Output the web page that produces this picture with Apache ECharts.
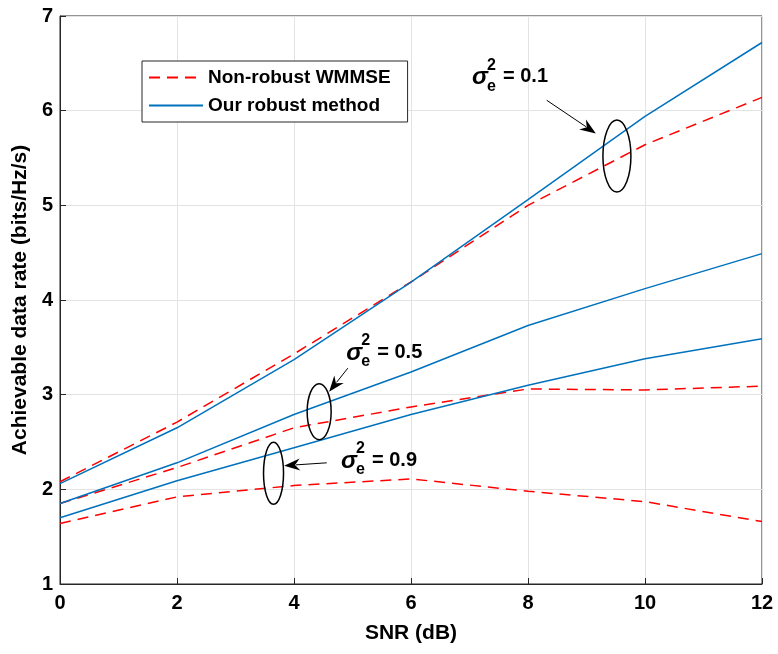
<!DOCTYPE html>
<html>
<head>
<meta charset="utf-8">
<script src="https://cdn.jsdelivr.net/npm/echarts@6/dist/echarts.min.js"></script>
<style>
  html, body { margin: 0; padding: 0; background: #fff; }
  #chart { width: 778px; height: 654px; }
</style>
</head>
<body>
<div id="chart"></div>
<script>
// SNR (dB)
const snr = [0, 2, 4, 6, 8, 10, 12];

// sigma_e^2 = 0.1
const robust01 = [2.06, 2.65, 3.37, 4.19, 5.06, 5.94, 6.72];
const nonRobust01 = [2.08, 2.71, 3.43, 4.19, 5.0, 5.64, 6.14];
// sigma_e^2 = 0.5
const robust05 = [1.85, 2.28, 2.79, 3.24, 3.73, 4.12, 4.49];
const nonRobust05 = [1.85, 2.23, 2.65, 2.87, 3.06, 3.05, 3.09];
// sigma_e^2 = 0.9
const robust09 = [1.70, 2.09, 2.44, 2.79, 3.10, 3.38, 3.59];
const nonRobust09 = [1.64, 1.92, 2.04, 2.11, 1.98, 1.87, 1.66];

const labelNames = ["0.1", "0.5", "0.9"];

const pair = (ys) => snr.map((x, i) => [x, ys[i]]);

const BLUE = "#0072BD";
const RED = "#FF0000";
const FONT = "Liberation Sans, Arial, sans-serif";

const chart = echarts.init(document.getElementById("chart"));

function robustSeries(ys) {
  return {
    name: "Our robust method",
    type: "line",
    data: pair(ys),
    symbol: "none",
    lineStyle: { color: BLUE, width: 1.5 },
    itemStyle: { color: BLUE },
    z: 3,
  };
}
function nonRobustSeries(ys) {
  return {
    name: "Non-robust WMMSE",
    type: "line",
    data: pair(ys),
    symbol: "none",
    lineStyle: { color: RED, width: 1.5, type: [11, 7] },
    itemStyle: { color: RED },
    z: 2,
  };
}

let option = {
  animation: false,
  grid: {
    left: 60,
    right: 16,
    top: 16,
    bottom: 70,
    show: true,
    borderColor: "#262626",
    borderWidth: 1,
  },
  legend: {
    left: 142,
    top: 61,
    orient: "vertical",
    data: ["Non-robust WMMSE", "Our robust method"],
    backgroundColor: "#fff",
    borderColor: "#262626",
    borderWidth: 1,
    padding: [7, 17, 7, 6],
    itemGap: 9,
    itemWidth: 54,
    itemHeight: 14,
    itemStyle: { opacity: 0 },
    textStyle: { fontFamily: FONT, fontWeight: "bold", fontSize: 19, color: "#000" },
  },
  xAxis: {
    type: "value",
    min: 0,
    max: 12,
    interval: 2,
    name: "SNR (dB)",
    nameLocation: "middle",
    nameGap: 39,
    nameTextStyle: { fontFamily: FONT, fontWeight: "bold", fontSize: 21, color: "#000" },
    axisLine: { show: true, lineStyle: { color: "#262626" } },
    axisTick: { inside: true, length: 6, lineStyle: { color: "#262626" } },
    axisLabel: { fontFamily: FONT, fontWeight: "bold", fontSize: 20, color: "#000", margin: 9 },
    splitLine: { show: true, lineStyle: { color: "#e3e3e3" } },
  },
  yAxis: {
    type: "value",
    min: 1,
    max: 7,
    interval: 1,
    name: "Achievable data rate (bits/Hz/s)",
    nameLocation: "middle",
    nameGap: 21,
    nameTextStyle: { fontFamily: FONT, fontWeight: "bold", fontSize: 21, color: "#000" },
    axisLine: { show: true, lineStyle: { color: "#262626" } },
    axisTick: { inside: true, length: 6, lineStyle: { color: "#262626" } },
    axisLabel: { fontFamily: FONT, fontWeight: "bold", fontSize: 20, color: "#000", margin: 7 },
    splitLine: { show: true, lineStyle: { color: "#e3e3e3" } },
  },
  series: [
    nonRobustSeries(nonRobust01),
    robustSeries(robust01),
    nonRobustSeries(nonRobust05),
    robustSeries(robust05),
    nonRobustSeries(nonRobust09),
    robustSeries(robust09),
  ],
};
chart.setOption(option);

// annotation placement in data units: label anchor, arrow from/to, ellipse centre + radii (px)
const notes = [
  { label: [7.06, 6.36], from: [8.32, 6.11], to: [9.16, 5.76], ell: [9.52, 5.52], rx: 14, ry: 36 },
  { label: [4.91, 3.45], from: [4.92, 3.28], to: [4.60, 3.03], ell: [4.43, 2.82], rx: 12, ry: 28 },
  { label: [4.82, 2.31], from: [4.56, 2.28], to: [3.83, 2.25], ell: [3.65, 2.17], rx: 10, ry: 31 },
];

const px = (p) => chart.convertToPixel({ gridIndex: 0 }, p);
let elements = [];
notes.forEach((n, i) => {
  const a = px(n.label);
  const f = px(n.from);
  const t = px(n.to);
  const c = px(n.ell);
  // label sigma_e^2 = x
  elements.push({
    type: "group",
    x: a[0],
    y: a[1],
    z: 10,
    children: [
      { type: "text", x: -1, y: 1, style: { text: "σ", font: "italic bold 24px " + FONT, fill: "#000", textVerticalAlign: "middle" } },
      { type: "text", x: 14, y: -11, style: { text: "2", font: "bold 16px " + FONT, fill: "#000", textVerticalAlign: "middle" } },
      { type: "text", x: 14, y: 10, style: { text: "e", font: "bold 16px " + FONT, fill: "#000", textVerticalAlign: "middle" } },
      { type: "text", x: 30, y: 0, style: { text: "= " + labelNames[i], font: "bold 20px " + FONT, fill: "#000", textVerticalAlign: "middle" } },
    ],
  });
  // arrow
  const dx = t[0] - f[0], dy = t[1] - f[1];
  const len = Math.sqrt(dx * dx + dy * dy);
  const ux = dx / len, uy = dy / len;
  const hl = 16, hw = 6;
  const bx = t[0] - ux * hl, by = t[1] - uy * hl;
  elements.push({
    type: "line",
    z: 10,
    shape: { x1: f[0], y1: f[1], x2: bx + ux * 4, y2: by + uy * 4 },
    style: { stroke: "#000", lineWidth: 1 },
  });
  elements.push({
    type: "polygon",
    z: 10,
    shape: {
      points: [
        [t[0], t[1]],
        [bx - uy * hw, by + ux * hw],
        [bx + ux * 5, by + uy * 5],
        [bx + uy * hw, by - ux * hw],
      ],
    },
    style: { fill: "#000" },
  });
  // ellipse
  elements.push({
    type: "ellipse",
    z: 10,
    shape: { cx: c[0], cy: c[1], rx: n.rx, ry: n.ry },
    style: { fill: null, stroke: "#000", lineWidth: 1.5 },
  });
});
chart.setOption({ graphic: { elements: elements } });
</script>
</body>
</html>
